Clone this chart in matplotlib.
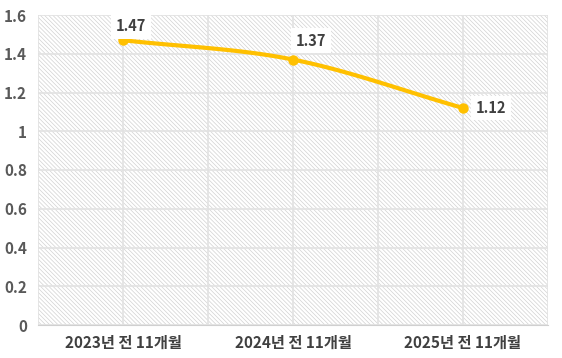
import matplotlib
matplotlib.use("Agg")
import matplotlib.pyplot as plt
import numpy as np
from matplotlib.patches import Rectangle

categories = ["2023년 전 11개월", "2024년 전 11개월", "2025년 전 11개월"]
values = [1.47, 1.37, 1.12]
yticks = [0, 0.2, 0.4, 0.6, 0.8, 1.0, 1.2, 1.4, 1.6]
ytick_labels = ["0", "0.2", "0.4", "0.6", "0.8", "1", "1.2", "1.4", "1.6"]

plt.rcParams['font.family'] = ['Noto Sans CJK KR', 'DejaVu Sans']
plt.rcParams['hatch.color'] = '#d2d2d2'
plt.rcParams['hatch.linewidth'] = 0.5

fig = plt.figure(figsize=(5.62, 3.58), dpi=100)
ax = fig.add_axes([38/562, 1-325/358, 510/562, 310/358])

x = np.arange(len(values))
ax.set_xlim(-0.5, len(values)-0.5)
ax.set_ylim(0, 1.6)

# hatched background
ax.add_patch(Rectangle((0, 0), 1, 1, transform=ax.transAxes, facecolor='white',
                       edgecolor='#d2d2d2', hatch='\\' * 8, linewidth=0, zorder=0))

for v in yticks:
    ax.axhline(v, color='#e2e2e2', lw=1.2, zorder=1)
for xv in np.arange(-0.5, len(values), 0.5):
    ax.axvline(xv, color='#e2e2e2', lw=1.2, zorder=1)

# Catmull-Rom smoothing for display (Excel-style smoothed line)
def catmull(xs, ys, n=40):
    px = np.concatenate([[2*xs[0]-xs[1]], xs, [2*xs[-1]-xs[-2]]])
    py = np.concatenate([[2*ys[0]-ys[1]], ys, [2*ys[-1]-ys[-2]]])
    ox, oy = [], []
    for i in range(1, len(px)-2):
        t = np.linspace(0, 1, n)
        for arr, out in ((px, ox), (py, oy)):
            p0, p1, p2, p3 = arr[i-1], arr[i], arr[i+1], arr[i+2]
            out.extend(0.5*((2*p1) + (-p0+p2)*t + (2*p0-5*p1+4*p2-p3)*t**2 + (-p0+3*p1-3*p2+p3)*t**3))
    return np.array(ox), np.array(oy)

sx, sy = catmull(x.astype(float), np.array(values))
ax.plot(sx, sy, color='#FFC000', lw=3, zorder=3, solid_capstyle='round')
ax.plot(x, values, 'o', color='#FFC000', ms=6.5, zorder=4)

offsets = [(8, 14), (18, 19), (28, 0)]
for xi, v, (dx, dy) in zip(x, values, offsets):
    ax.annotate(f"{v:.2f}", (xi, v), xytext=(dx, dy), textcoords='offset pixels',
                ha='center', va='center', fontsize=10.5, fontweight='bold', color='#404040',
                bbox=dict(boxstyle='square,pad=0.3', fc='white', ec='none'), zorder=5)

ax.set_xticks(x)
ax.set_xticklabels(categories, fontsize=11, fontweight='bold', color='#404040')
ax.set_yticks(yticks)
ax.set_yticklabels(ytick_labels, fontsize=11, fontweight='bold', color='#595959')
ax.tick_params(length=0, pad=7)
ax.tick_params(axis='y', pad=8)
for s in ax.spines.values():
    s.set_visible(False)
ax.spines['bottom'].set_visible(True)
ax.spines['bottom'].set_color('#d0d0d0')

fig.savefig("out.png", dpi=100)
